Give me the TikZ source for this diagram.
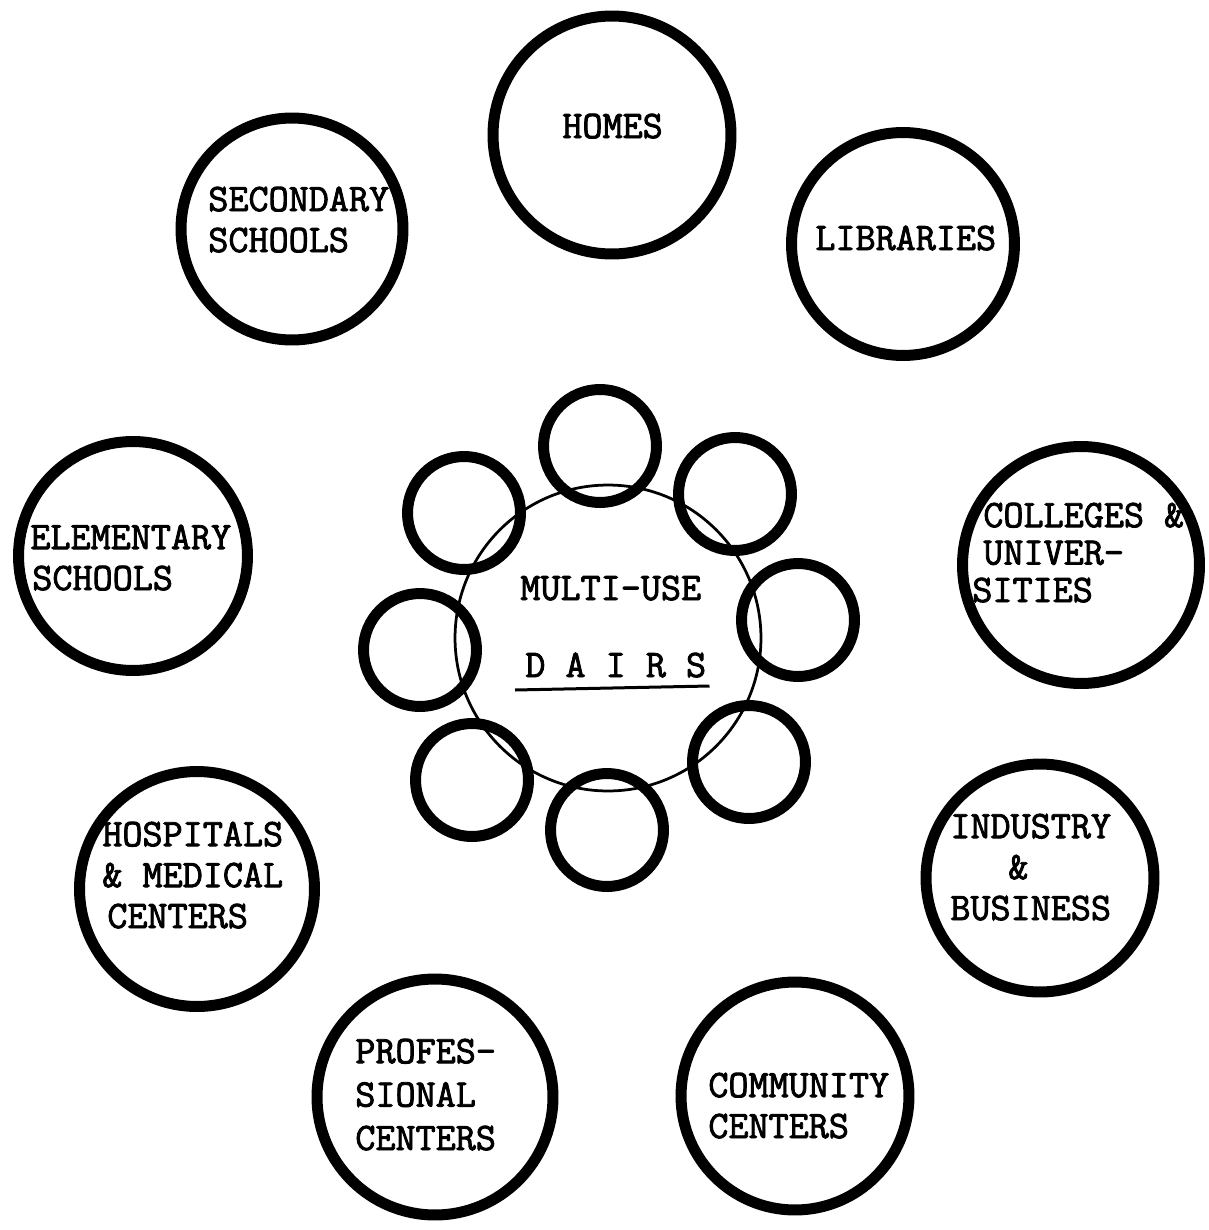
\documentclass[tikz,border=0pt]{standalone}
\usepackage{fontspec}
\newfontfamily\typewr[FakeBold=2.2]{Latin Modern Mono}
\usetikzlibrary{calc}
\begin{document}
\begin{tikzpicture}[x=0.02cm,y=-0.02cm,
  bigring/.style={circle,draw=black,line width=0.22cm,inner sep=0pt},
  smallring/.style={circle,draw=black,line width=0.22cm,inner sep=0pt,minimum size=2.26cm},
  hubring/.style={circle,draw=black,line width=0.055cm,inner sep=0pt,minimum size=6.12cm},
  lbl/.style={anchor=base west,inner sep=0pt,align=left,
    font=\typewr\fontsize{22.2pt}{23.3pt}\selectfont},
  uline/.style={line width=0.06cm}]
\fill[white] (0,0) rectangle (1208,1230);
\useasboundingbox (0,0) rectangle (1208,1230);

% central hub
\node[hubring] (hub) at (608,638) {};
\node[smallring] (s1) at (600,446) {};
\node[smallring] (s2) at (735,494) {};
\node[smallring] (s3) at (798,620) {};
\node[smallring] (s4) at (749,762) {};
\node[smallring] (s5) at (607,830) {};
\node[smallring] (s6) at (472,780) {};
\node[smallring] (s7) at (420,650) {};
\node[smallring] (s8) at (464,513) {};

\node[lbl] (multi) at (520,600) {MULTI-USE};
\node[lbl] (dairs) at (525,677) {D A I R S};
\draw[uline] ([xshift=-0.2cm,yshift=-0.26cm]dairs.base west) -- ([xshift=0.06cm,yshift=-0.18cm]dairs.base east);

% outer rings
\node[bigring,minimum size=4.76cm] (homes) at (612,135) {};
\node[bigring,minimum size=4.44cm] (secondary) at (292,229) {};
\node[bigring,minimum size=4.46cm] (libraries) at (903,244) {};
\node[bigring,minimum size=4.58cm] (elementary) at (133,556) {};
\node[bigring,minimum size=4.74cm] (colleges) at (1081,565) {};
\node[bigring,minimum size=4.7cm] (hospitals) at (197,889) {};
\node[bigring,minimum size=4.56cm] (industry) at (1040,878) {};
\node[bigring,minimum size=4.72cm] (professional) at (435,1097) {};
\node[bigring,minimum size=4.56cm] (community) at (795,1096) {};

% labels (base anchor = baseline of the last line)
\node[lbl] (homes-t) at (562,138) {HOMES};
\node[lbl] (secondary-t) at (208,252) {SECONDARY\\SCHOOLS};
\node[lbl] (libraries-t) at (815,250) {LIBRARIES};
\node[lbl] (elementary-t) at (30,590) {ELEMENTARY\\\hspace*{0.04cm}SCHOOLS};
\node[lbl] (colleges-t) at (983,602) {COLLEGES \&\\[-0.07cm]UNIVER-\\[-0.07cm]\hspace*{-0.22cm}SITIES};
\node[lbl] (hospitals-t) at (102,928) {HOSPITALS\\\& MEDICAL\\\hspace*{0.1cm}CENTERS};
\node[lbl] (industry-t) at (950,920) {INDUSTRY\\\hspace*{1.16cm}\&\\BUSINESS};
\node[lbl] (professional-t) at (355,1150) {PROFES-\\[0.05cm]SIONAL\\[0.05cm]CENTERS};
\node[lbl] (community-t) at (708,1138) {COMMUNITY\\CENTERS};
\end{tikzpicture}
\end{document}
